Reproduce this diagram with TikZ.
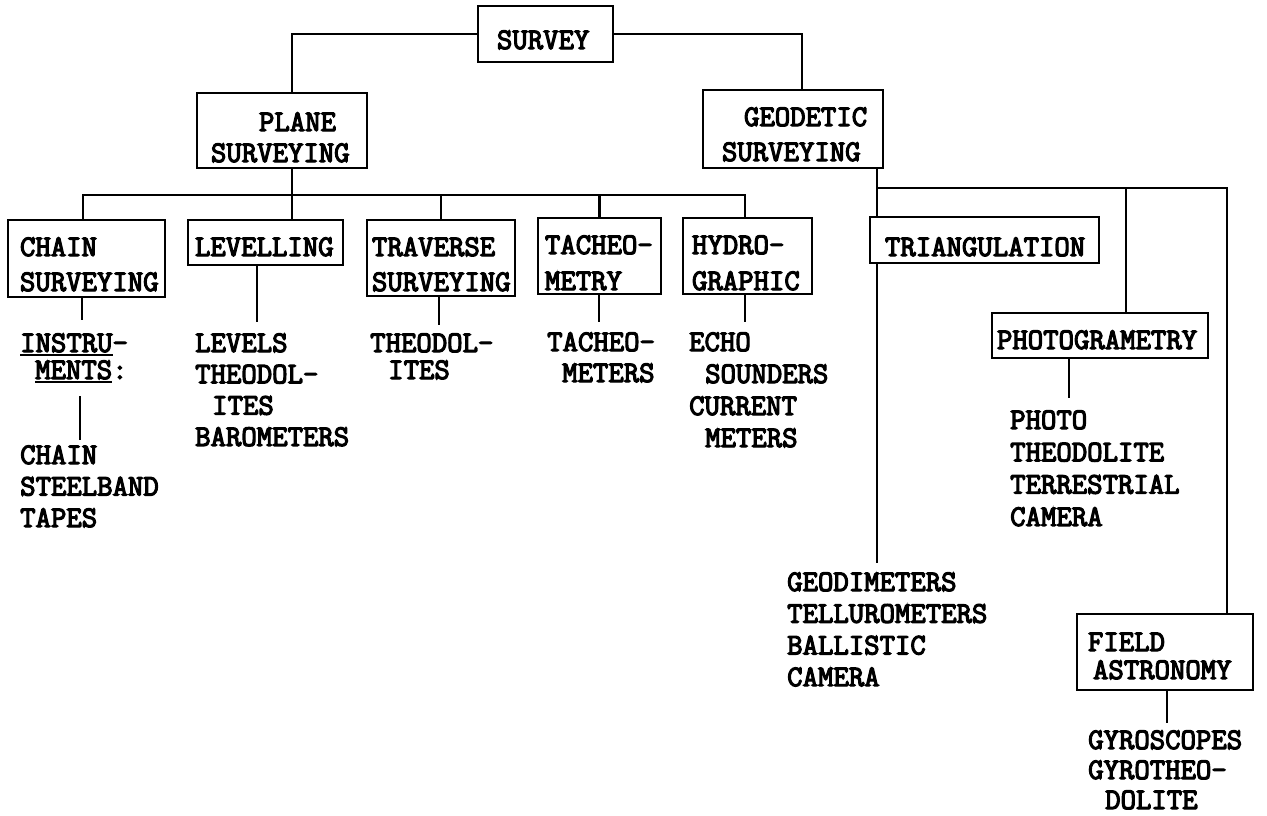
\documentclass[tikz,border=0pt]{standalone}
\usepackage{fontspec}
\setmonofont{Latin Modern Mono}[AutoFakeBold=4]
\newcommand\lst[2]{{\fontsize{29.9}{#1}\selectfont\begin{tabular}[t]{@{}l@{}}#2\end{tabular}}}
\newcommand\bx[4]{\raisebox{#2}[0pt][0pt]{\makebox[0pt][l]{\hspace*{#1}\lst{#3}{#4}}}}
\newcommand\ul[1]{\setbox0\hbox{#1}\rlap{\rule[-3.5pt]{\wd0}{1.8pt}}\box0}
\tikzset{
  box/.style={draw, line width=2.6pt, inner sep=0pt, fill=white},
  lstnode/.style={inner sep=0pt, anchor=base west},
  conn/.style={line width=2.2pt},
}
\begin{document}
\begin{tikzpicture}[x=1pt,y=-1pt,every node/.style={font=\ttfamily\bfseries\fontsize{29.9}{31}\selectfont}]
\useasboundingbox (0,0) rectangle (1267,815);

% boxes
\node[box, minimum width=135pt, minimum height=56pt] (survey) at (545.5,34) {\bx{-48.5pt}{-15pt}{31}{SURVEY}};
\node[box, minimum width=170pt, minimum height=75pt] (plane) at (282,130.5) {\bx{-71pt}{-0.5pt}{31}{\hspace*{48pt}PLANE\\SURVEYING}};
\node[box, minimum width=180pt, minimum height=78pt] (geo) at (793,129) {\bx{-71pt}{3pt}{35}{\hspace*{22pt}GEODETIC\\SURVEYING}};
\node[box, minimum width=157pt, minimum height=77pt] (chain) at (86.5,258.5) {\bx{-66.5pt}{2.5pt}{35}{CHAIN\\SURVEYING}};
\node[box, minimum width=155pt, minimum height=45pt] (lev) at (265.5,242.5) {\bx{-70.5pt}{-13.5pt}{35}{LEVELLING}};
\node[box, minimum width=148pt, minimum height=76pt] (trav) at (441,258) {\bx{-69pt}{2pt}{35}{TRAVERSE\\SURVEYING}};
\node[box, minimum width=123pt, minimum height=76pt] (tach) at (599.5,256) {\bx{-54.5pt}{2pt}{36}{TACHEO-\\METRY}};
\node[box, minimum width=129pt, minimum height=76pt] (hydro) at (747.5,256) {\bx{-55.5pt}{2pt}{36}{HYDRO-\\GRAPHIC}};
\node[box, minimum width=229pt, minimum height=46pt] (tri) at (984.5,240) {\bx{-99.5pt}{-16pt}{31}{TRIANGULATION}};
\node[box, minimum width=216pt, minimum height=45pt] (photo) at (1100,335.5) {\bx{-103pt}{-13.5pt}{31}{PHOTOGRAMETRY}};
\node[box, minimum width=176pt, minimum height=76pt] (field) at (1165,652) {\bx{-77pt}{1pt}{28}{FIELD\\\hspace*{5pt}ASTRONOMY}};

% lists
\node[lstnode] (instr) at (20,352) {\lst{27}{\ul{INSTRU}-\\\hspace*{15pt}\ul{MENTS}:}};
\node[lstnode] (chainl) at (20,464) {\lst{31.5}{CHAIN\\STEELBAND\\TAPES}};
\node[lstnode] (levl) at (195,352) {\lst{31.3}{LEVELS\\THEODOL-\\\hspace*{17pt}ITES\\BAROMETERS}};
\node[lstnode] (travl) at (370,352) {\lst{27}{THEODOL-\\\hspace*{18pt}ITES}};
\node[lstnode] (tachl) at (547,351) {\lst{31}{TACHEO-\\\hspace*{15pt}METERS}};
\node[lstnode] (hydrol) at (689,351) {\lst{32}{ECHO\\\hspace*{16pt}SOUNDERS\\CURRENT\\\hspace*{16pt}METERS}};
\node[lstnode] (photol) at (1010,429) {\lst{32.3}{PHOTO\\THEODOLITE\\TERRESTRIAL\\CAMERA}};
\node[lstnode] (geodiml) at (787,591) {\lst{31.7}{GEODIMETERS\\TELLUROMETERS\\BALLISTIC\\CAMERA}};
\node[lstnode] (gyrol) at (1088,749) {\lst{30}{GYROSCOPES\\GYROTHEO-\\\hspace*{17pt}DOLITE}};

% coordinates
\coordinate (tl) at (292,35);
\coordinate (tr) at (802,35);
\coordinate (pl) at (83,195);
\coordinate (pr) at (745,195);
\coordinate (gl) at (877,188);
\coordinate (gm) at (1126,188);
\coordinate (gr) at (1227,188);
\coordinate (eins) at (82,320);
\coordinate (ich) at (80,440);
\coordinate (elev) at (257,322);
\coordinate (etrav) at (439,325);
\coordinate (etach) at (599,322);
\coordinate (ehyd) at (745,322);
\coordinate (eph) at (1069,398);
\coordinate (egd) at (877,563);
\coordinate (egy) at (1167,723);

% connectors
\draw[conn] (survey.west) -| (plane.north -| tl);
\draw[conn] (survey.east) -| (geo.north -| tr);
\draw[conn] (plane.south -| tl) -- (lev.north -| tl);
\draw[conn] (chain.north -| pl) -- (pl) -- (pr) -- (hydro.north -| pr);
\draw[conn] (trav.north) -- (trav.north |- pl);
\draw[conn] (tach.north) -- (tach.north |- pl);
\draw[conn] (geo.south -| gl) -- (tri.north -| gl);
\draw[conn] (gl) -- (gr) -- (field.north -| gr);
\draw[conn] (gm) -- (photo.north -| gm);
\draw[conn] (tri.south -| gl) -- (egd);
\draw[conn] (chain.south -| eins) -- (eins);
\draw[conn, shorten <=9pt] (instr.south -| ich) -- (ich);
\draw[conn] (lev.south -| elev) -- (elev);
\draw[conn] (trav.south -| etrav) -- (etrav);
\draw[conn] (tach.south -| etach) -- (etach);
\draw[conn] (hydro.south -| ehyd) -- (ehyd);
\draw[conn] (photo.south -| eph) -- (eph);
\draw[conn] (field.south -| egy) -- (egy);
\end{tikzpicture}
\end{document}
